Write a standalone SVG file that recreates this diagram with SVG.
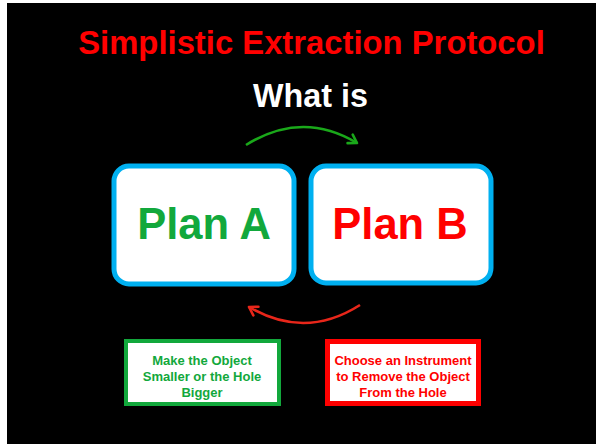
<svg xmlns="http://www.w3.org/2000/svg" width="596" height="444" viewBox="0 0 596 444">
<style>
text{font-family:"Liberation Sans",Arial,sans-serif;font-weight:bold;text-anchor:middle}
.plan{fill:#fff;stroke:#00b0f0;stroke-width:5}
.small{font-size:13px}
</style>
<defs>
<marker id="ag" markerUnits="userSpaceOnUse" markerWidth="20" markerHeight="20" refX="0" refY="0" viewBox="-10 -10 20 20" orient="auto">
<path d="M-8,-5 L0,0 L-8,5" fill="none" stroke="#1aa81a" stroke-width="2.6" stroke-linecap="round" stroke-linejoin="round"/>
</marker>
<marker id="ar" markerUnits="userSpaceOnUse" markerWidth="20" markerHeight="20" refX="0" refY="0" viewBox="-10 -10 20 20" orient="auto">
<path d="M-8,-5 L0,0 L-8,5" fill="none" stroke="#e8261a" stroke-width="2.6" stroke-linecap="round" stroke-linejoin="round"/>
</marker>
</defs>
<rect width="596" height="444" fill="#fff"/>
<rect x="7" y="3" width="589" height="441" fill="#000"/>
<text x="311.5" y="54" font-size="32.8" fill="#ff0000">Simplistic Extraction Protocol</text>
<text x="310.5" y="107" font-size="32.3" fill="#fff">What is</text>
<g id="connectors">
<path d="M246,145 Q302,110 357,143" fill="none" stroke="#1aa81a" stroke-width="2.6" marker-end="url(#ag)"/>
<path d="M360,305 Q305,340 249,307" fill="none" stroke="#e8261a" stroke-width="2.6" marker-end="url(#ar)"/>
</g>
<g id="planA">
<rect class="plan" x="114" y="166" width="180" height="118" rx="15"/>
<text x="204" y="239" font-size="43.5" fill="#12a83c">Plan A</text>
</g>
<g id="planB">
<rect class="plan" x="311" y="166" width="180" height="117" rx="15"/>
<text x="400" y="239" font-size="43.5" fill="#ff0000">Plan B</text>
</g>
<g id="makeSmaller">
<rect x="126" y="341" width="153" height="63" fill="#fff" stroke="#12a83c" stroke-width="4"/>
<text class="small" x="202" y="365" fill="#12a83c">Make the Object</text>
<text class="small" x="202" y="381" fill="#12a83c">Smaller or the Hole</text>
<text class="small" x="202" y="397" fill="#12a83c">Bigger</text>
</g>
<g id="chooseInstrument">
<rect x="327.5" y="341.5" width="151" height="62" fill="#fff" stroke="#ff0000" stroke-width="5"/>
<text class="small" x="403" y="365" fill="#ff0000">Choose an Instrument</text>
<text class="small" x="403" y="381" fill="#ff0000">to Remove the Object</text>
<text class="small" x="403" y="397" fill="#ff0000">From the Hole</text>
</g>
</svg>
